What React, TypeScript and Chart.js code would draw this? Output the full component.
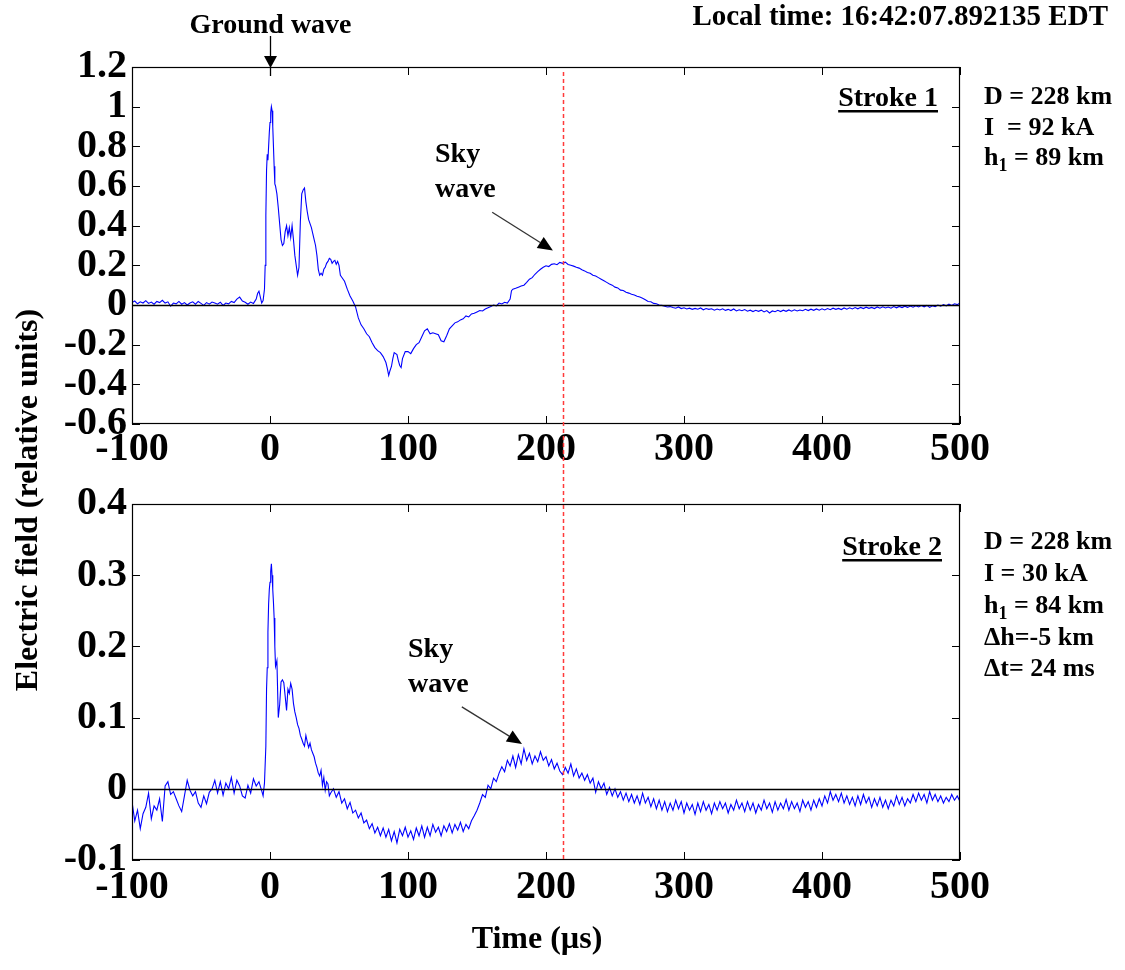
import React, { useEffect, useRef } from "react";
import { Chart, registerables } from "chart.js";

Chart.register(...registerables);

const SERIF = '"Liberation Serif", "Times New Roman", serif';

// Time axis (µs) and field ticks (relative units)
const timeTicks = [-100, 0, 100, 200, 300, 400, 500];
const stroke1Ticks = [-0.6, -0.4, -0.2, 0, 0.2, 0.4, 0.6, 0.8, 1, 1.2];
const stroke2Ticks = [-0.1, 0, 0.1, 0.2, 0.3, 0.4];

// Sky-wave reference time (µs), shared by both strokes
const skyWaveTime = 212;

const headerText = "Local time: 16:42:07.892135 EDT";
const stroke1Info = ["D = 228 km", "I  = 92 kA", "h_1 = 89 km"];
const stroke2Info = ["D = 228 km", "I = 30 kA", "h_1 = 84 km", "Δh=-5 km", "Δt= 24 ms"];

// Stroke 1 waveform: [time µs, field]
const stroke1: [number, number][] = [
  [-100, 0.012], [-98, 0.02], [-96, 0.006], [-94, 0.016], [-92, 0.01], [-90, 0.022], [-88, 0.008], [-86, 0.015],
  [-84, 0.004], [-82, 0.018], [-80, 0.012], [-78, 0.024], [-76, 0.01], [-74, 0.016], [-72, -0.006], [-70, 0.01],
  [-68, 0.006], [-66, 0.018], [-64, 0.004], [-62, 0.012], [-60, 0.0], [-58, 0.01], [-56, 0.016], [-54, 0.004],
  [-52, 0.018], [-50, 0.008], [-48, -0.002], [-46, 0.012], [-44, 0.004], [-42, 0.015], [-40, 0.01], [-38, 0.004],
  [-36, 0.014], [-34, -0.002], [-32, 0.01], [-30, 0.006], [-28, 0.018], [-26, 0.012], [-24, 0.03], [-22, 0.04],
  [-20, 0.02], [-18, 0.014], [-16, 0.004], [-14, 0.015], [-12, 0.008], [-10, 0.03], [-9, 0.058], [-8, 0.07],
  [-7, 0.04], [-6, 0.01], [-5, 0.022], [-4, 0.08], [-3.5, 0.2], [-3, 0.45], [-2.5, 0.68], [-2, 0.76],
  [-1.5, 0.73], [-1, 0.8], [-0.5, 0.87], [0, 0.92], [0.5, 0.97], [1, 1.0], [1.5, 0.98], [2, 0.9],
  [2.5, 0.8], [3, 0.7], [3.5, 0.61], [4, 0.6], [5, 0.56], [6, 0.49], [7, 0.41], [8, 0.33],
  [9, 0.3], [10, 0.31], [11, 0.37], [12, 0.4], [13, 0.35], [14, 0.39], [15, 0.34], [16, 0.4],
  [17, 0.33], [18, 0.25], [19, 0.2], [20, 0.15], [21, 0.19], [22, 0.42], [23, 0.56], [24, 0.58],
  [25, 0.59], [26, 0.52], [27, 0.47], [28, 0.43], [29, 0.41], [30, 0.39], [31, 0.36], [32, 0.33],
  [33, 0.3], [34, 0.25], [35, 0.18], [36, 0.15], [37, 0.16], [38, 0.15], [39, 0.18], [40, 0.19],
  [41, 0.21], [42, 0.22], [43, 0.235], [44, 0.23], [45, 0.21], [46, 0.22], [47, 0.225], [48, 0.205],
  [49, 0.22], [50, 0.2], [51, 0.15], [52, 0.14], [54, 0.12], [56, 0.08], [58, 0.045], [60, 0.02],
  [62, -0.01], [64, -0.065], [66, -0.1], [68, -0.12], [70, -0.145], [72, -0.16], [74, -0.19], [76, -0.215],
  [78, -0.23], [80, -0.24], [82, -0.26], [84, -0.29], [85, -0.32], [86, -0.355], [87, -0.33], [88, -0.31],
  [89, -0.27], [90, -0.24], [92, -0.25], [93, -0.28], [94, -0.305], [95, -0.315], [96, -0.27], [98, -0.235],
  [100, -0.235], [102, -0.245], [104, -0.22], [106, -0.2], [108, -0.19], [110, -0.16], [112, -0.13], [114, -0.12],
  [116, -0.145], [118, -0.14], [120, -0.145], [122, -0.15], [124, -0.18], [126, -0.185], [128, -0.155], [130, -0.12],
  [132, -0.105], [134, -0.09], [136, -0.085], [138, -0.075], [140, -0.07], [142, -0.055], [144, -0.06], [146, -0.045],
  [148, -0.042], [150, -0.035], [152, -0.028], [154, -0.03], [156, -0.02], [158, -0.014], [160, -0.008], [162, 0.0],
  [164, -0.004], [166, 0.01], [168, 0.005], [170, 0.014], [172, 0.01], [174, 0.03], [175, 0.072], [176, 0.08],
  [178, 0.084], [180, 0.09], [182, 0.096], [184, 0.1], [186, 0.114], [188, 0.13], [190, 0.138], [192, 0.155],
  [194, 0.168], [196, 0.18], [198, 0.19], [200, 0.198], [202, 0.194], [204, 0.205], [206, 0.208], [208, 0.203],
  [210, 0.215], [212, 0.21], [214, 0.216], [216, 0.204], [218, 0.2], [220, 0.196], [222, 0.19], [224, 0.186],
  [226, 0.178], [228, 0.172], [230, 0.164], [232, 0.16], [234, 0.15], [236, 0.146], [238, 0.138], [240, 0.13],
  [242, 0.122], [244, 0.114], [246, 0.106], [248, 0.1], [250, 0.09], [252, 0.086], [254, 0.075], [256, 0.073],
  [258, 0.064], [260, 0.06], [262, 0.054], [264, 0.05], [266, 0.044], [268, 0.04], [270, 0.034], [272, 0.026],
  [274, 0.018], [276, 0.016], [278, 0.008], [280, 0.006], [282, 0.0], [284, -0.002], [286, -0.006], [288, -0.01],
  [290, -0.008], [292, -0.013], [294, -0.016], [296, -0.01], [298, -0.018], [300, -0.014], [302, -0.02], [304, -0.016],
  [306, -0.022], [308, -0.017], [310, -0.021], [312, -0.015], [314, -0.024], [316, -0.018], [318, -0.022], [320, -0.019],
  [322, -0.026], [324, -0.02], [326, -0.025], [328, -0.019], [330, -0.027], [332, -0.022], [334, -0.028], [336, -0.02],
  [338, -0.03], [340, -0.024], [342, -0.029], [344, -0.023], [346, -0.031], [348, -0.026], [350, -0.033], [352, -0.027],
  [354, -0.032], [356, -0.026], [358, -0.035], [360, -0.028], [362, -0.04], [364, -0.03], [366, -0.034], [368, -0.027],
  [370, -0.033], [372, -0.026], [374, -0.032], [376, -0.025], [378, -0.031], [380, -0.024], [382, -0.03], [384, -0.025],
  [386, -0.029], [388, -0.022], [390, -0.028], [392, -0.021], [394, -0.027], [396, -0.02], [398, -0.026], [400, -0.019],
  [402, -0.025], [404, -0.018], [406, -0.024], [408, -0.016], [410, -0.022], [412, -0.017], [414, -0.023], [416, -0.015],
  [418, -0.021], [420, -0.014], [422, -0.02], [424, -0.013], [426, -0.019], [428, -0.012], [430, -0.018], [432, -0.011],
  [434, -0.017], [436, -0.012], [438, -0.018], [440, -0.01], [442, -0.016], [444, -0.009], [446, -0.015], [448, -0.01],
  [450, -0.016], [452, -0.008], [454, -0.014], [456, -0.007], [458, -0.013], [460, -0.006], [462, -0.012], [464, -0.005],
  [466, -0.011], [468, -0.004], [470, -0.01], [472, -0.003], [474, -0.009], [476, -0.002], [478, -0.012], [480, -0.004],
  [482, -0.008], [484, 0.0], [486, -0.006], [488, 0.002], [490, -0.004], [492, 0.004], [494, -0.002], [496, 0.006],
  [498, 0.002], [500, 0.01],
];

// Stroke 2 waveform: [time µs, field]
const stroke2: [number, number][] = [
  [-100, -0.018], [-98, -0.045], [-96, -0.03], [-94, -0.056], [-92, -0.035], [-90, -0.026], [-88, -0.006], [-86, -0.042],
  [-84, -0.024], [-82, -0.03], [-80, -0.014], [-78, -0.046], [-76, 0.004], [-74, 0.01], [-72, -0.008], [-70, -0.004],
  [-68, -0.014], [-66, -0.024], [-64, -0.032], [-62, -0.01], [-60, 0.012], [-58, -0.002], [-56, -0.01], [-54, -0.004],
  [-52, -0.02], [-50, -0.026], [-48, -0.01], [-46, -0.021], [-44, -0.005], [-42, 0.0], [-40, 0.012], [-38, -0.006],
  [-36, 0.01], [-34, -0.009], [-32, 0.008], [-30, 0.0], [-28, 0.016], [-26, -0.006], [-24, 0.012], [-22, 0.004],
  [-20, -0.01], [-18, -0.013], [-16, 0.005], [-14, -0.006], [-12, 0.014], [-10, 0.004], [-8, 0.01], [-6, -0.003],
  [-5, -0.01], [-4, 0.008], [-3, 0.06], [-2.5, 0.14], [-2, 0.17], [-1.5, 0.22], [-1, 0.26], [-0.5, 0.28],
  [0, 0.29], [0.5, 0.305], [1, 0.316], [1.5, 0.3], [2, 0.28], [2.5, 0.262], [3, 0.24], [3.5, 0.2],
  [4, 0.172], [5, 0.18], [6, 0.1], [7, 0.118], [8, 0.15], [9, 0.153], [10, 0.149], [11, 0.13],
  [12, 0.11], [13, 0.14], [14, 0.134], [15, 0.148], [16, 0.14], [17, 0.12], [18, 0.108], [19, 0.1],
  [20, 0.09], [21, 0.085], [22, 0.075], [23, 0.07], [24, 0.064], [25, 0.06], [26, 0.075], [27, 0.066],
  [28, 0.058], [29, 0.064], [30, 0.055], [31, 0.05], [32, 0.045], [33, 0.036], [34, 0.03], [35, 0.022],
  [36, 0.018], [37, 0.026], [38, 0.005], [39, 0.016], [40, -0.002], [41, 0.01], [42, 0.007], [43, -0.01],
  [44, -0.006], [46, 0.0], [48, -0.012], [50, -0.004], [52, -0.02], [54, -0.014], [56, -0.028], [58, -0.019],
  [60, -0.034], [62, -0.03], [64, -0.041], [66, -0.034], [68, -0.048], [70, -0.044], [72, -0.056], [74, -0.049],
  [76, -0.062], [78, -0.054], [80, -0.066], [82, -0.055], [84, -0.068], [86, -0.057], [88, -0.073], [90, -0.06],
  [92, -0.076], [94, -0.057], [96, -0.066], [98, -0.054], [100, -0.068], [102, -0.059], [104, -0.071], [106, -0.055],
  [108, -0.066], [110, -0.052], [112, -0.068], [114, -0.054], [116, -0.066], [118, -0.05], [120, -0.061], [122, -0.054],
  [124, -0.066], [126, -0.052], [128, -0.06], [130, -0.049], [132, -0.062], [134, -0.05], [136, -0.058], [138, -0.047],
  [140, -0.06], [142, -0.05], [144, -0.056], [146, -0.045], [148, -0.038], [150, -0.03], [152, -0.02], [154, -0.008],
  [156, -0.012], [158, 0.005], [160, 0.0], [162, 0.015], [164, 0.01], [166, 0.022], [168, 0.031], [170, 0.024],
  [172, 0.04], [174, 0.032], [176, 0.046], [178, 0.03], [180, 0.048], [182, 0.035], [184, 0.056], [186, 0.04],
  [188, 0.05], [190, 0.035], [192, 0.046], [194, 0.038], [196, 0.052], [198, 0.04], [200, 0.045], [202, 0.032],
  [204, 0.041], [206, 0.028], [208, 0.036], [210, 0.025], [212, 0.02], [214, 0.03], [216, 0.022], [218, 0.035],
  [220, 0.018], [222, 0.028], [224, 0.015], [226, 0.022], [228, 0.012], [230, 0.02], [232, 0.008], [234, 0.015],
  [236, -0.005], [238, 0.01], [240, 0.0], [242, 0.008], [244, -0.008], [246, 0.002], [248, -0.01], [250, 0.0],
  [252, -0.012], [254, -0.004], [256, -0.016], [258, -0.006], [260, -0.018], [262, -0.008], [264, -0.02], [266, -0.01],
  [268, -0.022], [270, -0.006], [272, -0.02], [274, -0.012], [276, -0.025], [278, -0.014], [280, -0.028], [282, -0.016],
  [284, -0.03], [286, -0.018], [288, -0.032], [290, -0.02], [292, -0.03], [294, -0.016], [296, -0.028], [298, -0.018],
  [300, -0.034], [302, -0.02], [304, -0.03], [306, -0.022], [308, -0.036], [310, -0.02], [312, -0.032], [314, -0.018],
  [316, -0.03], [318, -0.022], [320, -0.035], [322, -0.02], [324, -0.03], [326, -0.018], [328, -0.028], [330, -0.02],
  [332, -0.034], [334, -0.022], [336, -0.03], [338, -0.016], [340, -0.028], [342, -0.02], [344, -0.032], [346, -0.018],
  [348, -0.03], [350, -0.02], [352, -0.034], [354, -0.022], [356, -0.03], [358, -0.016], [360, -0.028], [362, -0.02],
  [364, -0.033], [366, -0.018], [368, -0.03], [370, -0.02], [372, -0.028], [374, -0.015], [376, -0.03], [378, -0.018],
  [380, -0.028], [382, -0.02], [384, -0.032], [386, -0.016], [388, -0.026], [390, -0.018], [392, -0.03], [394, -0.016],
  [396, -0.026], [398, -0.014], [400, -0.024], [402, -0.01], [404, -0.02], [406, -0.004], [408, -0.016], [410, -0.008],
  [412, -0.018], [414, -0.006], [416, -0.02], [418, -0.01], [420, -0.022], [422, -0.012], [424, -0.024], [426, -0.01],
  [428, -0.022], [430, -0.008], [432, -0.02], [434, -0.012], [436, -0.026], [438, -0.014], [440, -0.024], [442, -0.012],
  [444, -0.026], [446, -0.016], [448, -0.028], [450, -0.016], [452, -0.024], [454, -0.01], [456, -0.022], [458, -0.012],
  [460, -0.024], [462, -0.014], [464, -0.02], [466, -0.008], [468, -0.018], [470, -0.006], [472, -0.016], [474, -0.008],
  [476, -0.02], [478, -0.004], [480, -0.016], [482, -0.008], [484, -0.018], [486, -0.01], [488, -0.02], [490, -0.012],
  [492, -0.018], [494, -0.008], [496, -0.016], [498, -0.01], [500, -0.018],
];

type Pt = { t: number; v: number };

type PanelSpec = {
  name: string;
  canvasTop: number;
  canvasHeight: number;
  padTop: number;
  xAxisHeight: number;
  tickPad: number;
  yMin: number;
  yMax: number;
  yTicks: number[];
  data: [number, number][];
  label: string;
  labelRightInset: number;
  labelBaseline: number;
  info: string[];
  infoBaselines: number[];
  skyAt: Pt;
  skyArrowFrom: Pt;
  skyArrowTo: Pt;
  markerFromCanvasTop: boolean;
  markerToCanvasBottom: boolean;
  header: boolean;
  footer: boolean;
};

function font(size: number) {
  return `bold ${size}px ${SERIF}`;
}

function drawArrow(ctx: CanvasRenderingContext2D, x1: number, y1: number, x2: number, y2: number, color: string, lineColor: string, len = 15, half = 6.5) {
  const ang = Math.atan2(y2 - y1, x2 - x1);
  const bx = x2 - Math.cos(ang) * len;
  const by = y2 - Math.sin(ang) * len;
  ctx.save();
  ctx.setLineDash([]);
  ctx.strokeStyle = lineColor;
  ctx.lineWidth = 1.3;
  ctx.beginPath();
  ctx.moveTo(x1, y1);
  ctx.lineTo(bx, by);
  ctx.stroke();
  ctx.fillStyle = color;
  ctx.beginPath();
  ctx.moveTo(x2, y2);
  ctx.lineTo(bx + Math.sin(ang) * half, by - Math.cos(ang) * half);
  ctx.lineTo(bx - Math.sin(ang) * half, by + Math.cos(ang) * half);
  ctx.closePath();
  ctx.fill();
  ctx.restore();
}

function drawInfoLine(ctx: CanvasRenderingContext2D, text: string, x: number, y: number, size: number) {
  ctx.textAlign = "left";
  ctx.font = font(size);
  const i = text.indexOf("_");
  if (i < 0) {
    ctx.fillText(text, x, y);
    return;
  }
  const head = text.slice(0, i);
  const sub = text.slice(i + 1, i + 2);
  const rest = text.slice(i + 2);
  ctx.fillText(head, x, y);
  let cx = x + ctx.measureText(head).width;
  ctx.font = font(Math.round(size * 0.68));
  ctx.fillText(sub, cx, y + 6);
  cx += ctx.measureText(sub).width;
  ctx.font = font(size);
  ctx.fillText(rest, cx, y);
}

function makeDecor(spec: PanelSpec) {
  return {
    id: "decor" + spec.name,
    afterDraw(chart: any) {
      const { ctx, chartArea: a, scales } = chart;
      const xs = scales.x;
      const ys = scales.y;
      ctx.save();
      ctx.setLineDash([]);
      ctx.strokeStyle = "#000";

      // zero line
      const y0 = Math.round(ys.getPixelForValue(0)) + 0.5;
      ctx.lineWidth = 1.5;
      ctx.beginPath();
      ctx.moveTo(a.left, y0);
      ctx.lineTo(a.right, y0);
      ctx.stroke();

      // frame
      ctx.lineWidth = 1.2;
      ctx.strokeRect(a.left + 0.5, a.top + 0.5, a.right - a.left - 1, a.bottom - a.top - 1);

      // inward tick marks on all four sides
      const tl = 8;
      ctx.lineWidth = 1;
      ctx.beginPath();
      for (const t of timeTicks) {
        const x = Math.round(xs.getPixelForValue(t)) + 0.5;
        ctx.moveTo(x, a.bottom);
        ctx.lineTo(x, a.bottom - tl);
        ctx.moveTo(x, a.top);
        ctx.lineTo(x, a.top + tl);
      }
      for (const v of spec.yTicks) {
        const y = Math.round(ys.getPixelForValue(v)) + 0.5;
        ctx.moveTo(a.left, y);
        ctx.lineTo(a.left + tl, y);
        ctx.moveTo(a.right, y);
        ctx.lineTo(a.right - tl, y);
      }
      ctx.stroke();

      // sky-wave reference time marker
      const mx = Math.round(xs.getPixelForValue(skyWaveTime)) + 0.5;
      ctx.strokeStyle = "#ff3b3b";
      ctx.lineWidth = 1.5;
      ctx.setLineDash([4, 3]);
      ctx.beginPath();
      ctx.moveTo(mx, spec.markerFromCanvasTop ? 0 : a.top + 5);
      ctx.lineTo(mx, spec.markerToCanvasBottom ? chart.height : a.bottom);
      ctx.stroke();
      ctx.setLineDash([]);

      ctx.fillStyle = "#000";
      ctx.textBaseline = "alphabetic";

      // stroke label, underlined
      ctx.font = font(28);
      ctx.textAlign = "right";
      const lx = a.right - spec.labelRightInset;
      const ly = a.top + spec.labelBaseline;
      ctx.fillText(spec.label, lx, ly);
      const lw = ctx.measureText(spec.label).width;
      ctx.fillRect(lx - lw, ly + 4, lw, 2.5);

      // stroke parameters
      spec.info.forEach((s, i) => drawInfoLine(ctx, s, a.right + 24, a.top + spec.infoBaselines[i], 26));

      // sky wave annotation
      const sx = xs.getPixelForValue(spec.skyAt.t);
      const sy = ys.getPixelForValue(spec.skyAt.v);
      ctx.font = font(28);
      ctx.textAlign = "left";
      ctx.fillText("Sky", sx, sy);
      ctx.fillText("wave", sx, sy + 35);
      drawArrow(
        ctx,
        xs.getPixelForValue(spec.skyArrowFrom.t),
        ys.getPixelForValue(spec.skyArrowFrom.v),
        xs.getPixelForValue(spec.skyArrowTo.t),
        ys.getPixelForValue(spec.skyArrowTo.v),
        "#000",
        "#333"
      );

      if (spec.header) {
        // ground wave arrival
        const gx = Math.round(xs.getPixelForValue(0)) + 0.5;
        ctx.font = font(28);
        ctx.textAlign = "center";
        ctx.fillText("Ground wave", gx, 33);
        drawArrow(ctx, gx, 36, gx, a.top + 1, "#000", "#000", 12, 6.5);
        ctx.strokeStyle = "#000";
        ctx.lineWidth = 1.3;
        ctx.beginPath();
        ctx.moveTo(gx, a.top);
        ctx.lineTo(gx, a.top + 9);
        ctx.stroke();
        ctx.font = font(29);
        ctx.textAlign = "right";
        ctx.fillText(headerText, 1108, 25);
      }

      if (spec.footer) {
        ctx.font = font(32);
        ctx.textAlign = "center";
        ctx.fillText("Time (µs)", 537, chart.height - 22);
      }
      ctx.restore();
    },
  };
}

function buildConfig(spec: PanelSpec): any {
  const tickFont = { family: SERIF, size: 40, weight: "bold" as const };
  return {
    type: "line",
    data: {
      datasets: [
        {
          data: spec.data.map(([t, v]) => ({ x: t, y: v })),
          borderColor: "#0000ff",
          borderWidth: 1.1,
          pointRadius: 0,
          tension: 0,
          fill: false,
        },
      ],
    },
    options: {
      responsive: false,
      animation: false,
      devicePixelRatio: 1,
      layout: { padding: { left: 0, right: 165, top: spec.padTop, bottom: 0 } },
      plugins: { legend: { display: false }, tooltip: { enabled: false } },
      scales: {
        x: {
          type: "linear",
          min: -100,
          max: 500,
          grid: { display: false, drawTicks: false },
          border: { display: false },
          afterBuildTicks: (s: any) => {
            s.ticks = timeTicks.map((v) => ({ value: v }));
          },
          afterFit: (s: any) => {
            s.height = spec.xAxisHeight;
          },
          ticks: {
            autoSkip: false,
            maxRotation: 0,
            padding: spec.tickPad,
            color: "#000",
            font: tickFont,
            callback: (v: number) => String(v),
          },
        },
        y: {
          type: "linear",
          min: spec.yMin,
          max: spec.yMax,
          grid: { display: false, drawTicks: false },
          border: { display: false },
          afterBuildTicks: (s: any) => {
            s.ticks = spec.yTicks.map((v) => ({ value: v }));
          },
          afterFit: (s: any) => {
            s.width = 132;
          },
          ticks: {
            autoSkip: false,
            padding: 5,
            color: "#000",
            font: tickFont,
            callback: (v: number) => String(v),
          },
        },
      },
    },
    plugins: [makeDecor(spec)],
  };
}

const panels: PanelSpec[] = [
  {
    name: "stroke1",
    canvasTop: 0,
    canvasHeight: 470,
    padTop: 67,
    xAxisHeight: 46,
    tickPad: 2,
    yMin: -0.6,
    yMax: 1.2,
    yTicks: stroke1Ticks,
    data: stroke1,
    label: "Stroke 1",
    labelRightInset: 22,
    labelBaseline: 39,
    info: stroke1Info,
    infoBaselines: [37, 68, 98],
    skyAt: { t: 119.6, v: 0.72 },
    skyArrowFrom: { t: 161, v: 0.468 },
    skyArrowTo: { t: 205, v: 0.275 },
    markerFromCanvasTop: false,
    markerToCanvasBottom: true,
    header: true,
    footer: false,
  },
  {
    name: "stroke2",
    canvasTop: 470,
    canvasHeight: 500,
    padTop: 34,
    xAxisHeight: 110,
    tickPad: 4,
    yMin: -0.1,
    yMax: 0.4,
    yTicks: stroke2Ticks,
    data: stroke2,
    label: "Stroke 2",
    labelRightInset: 18,
    labelBaseline: 51,
    info: stroke2Info,
    infoBaselines: [45, 77, 109, 141, 172],
    skyAt: { t: 100, v: 0.185 },
    skyArrowFrom: { t: 139, v: 0.115 },
    skyArrowTo: { t: 182.6, v: 0.063 },
    markerFromCanvasTop: true,
    markerToCanvasBottom: false,
    header: false,
    footer: true,
  },
];

function Panel({ spec }: { spec: PanelSpec }) {
  const ref = useRef<HTMLCanvasElement | null>(null);
  useEffect(() => {
    if (!ref.current) return;
    const chart = new Chart(ref.current, buildConfig(spec));
    return () => chart.destroy();
  }, [spec]);
  return (
    <canvas
      ref={ref}
      width={1125}
      height={spec.canvasHeight}
      style={{ position: "absolute", left: 0, top: spec.canvasTop, width: 1125, height: spec.canvasHeight }}
    />
  );
}

export default function App() {
  return (
    <div style={{ position: "absolute", left: 0, top: 0, width: 1125, height: 970, background: "#fff", overflow: "hidden" }}>
      {panels.map((p) => (
        <Panel key={p.name} spec={p} />
      ))}
      <div
        style={{
          position: "absolute",
          left: 26 - 300,
          top: 500 - 20,
          width: 600,
          height: 40,
          lineHeight: "40px",
          textAlign: "center",
          fontFamily: SERIF,
          fontWeight: "bold",
          fontSize: 32,
          color: "#000",
          transform: "rotate(-90deg)",
          transformOrigin: "50% 50%",
          whiteSpace: "nowrap",
        }}
      >
        Electric field (relative units)
      </div>
    </div>
  );
}
